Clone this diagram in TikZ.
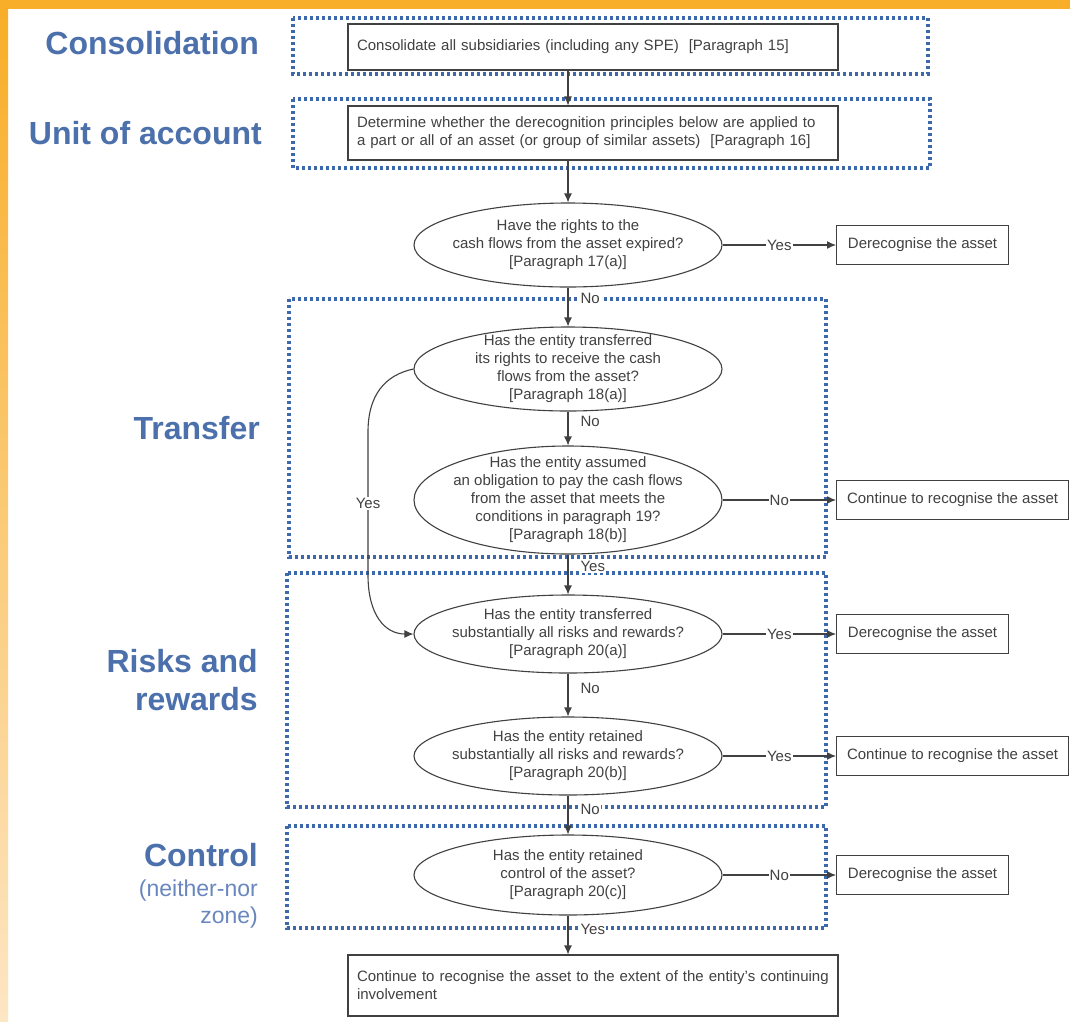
\documentclass[tikz,border=0pt]{standalone}
\usepackage{fontspec}
\setmainfont{Liberation Sans}
\usetikzlibrary{shapes.geometric,arrows.meta}
\definecolor{orangebar}{RGB}{248,174,40}
\definecolor{paleorange}{RGB}{253,230,196}
\definecolor{titleblue}{RGB}{75,112,172}
\definecolor{zoneblue}{RGB}{105,135,190}
\definecolor{dotblue}{RGB}{62,104,172}
\definecolor{ink}{RGB}{65,65,65}
\definecolor{txt}{RGB}{65,65,65}
\begin{document}
\begin{tikzpicture}[x=1pt,y=-1pt,
  every node/.style={font=\fontsize{15}{18}\selectfont, text=txt},
  box/.style={draw=ink, line width=1.1pt, fill=white},
  decision/.style={draw=ink, line width=1.1pt, ellipse, fill=white, inner sep=0pt, minimum width=308},
  qtext/.style={align=center, inner sep=0pt},
  zone/.style={draw=dotblue, line width=3.2pt, dash pattern=on 3pt off 3pt},
  arr/.style={draw=ink, line width=1.1pt, -{Latex[length=9pt,width=8pt]}},
  lbl/.style={fill=white, inner sep=1pt},
  vlbl/.style={fill=white, inner sep=1pt, anchor=west, xshift=11pt},
  title/.style={font=\fontsize{32}{38}\selectfont\bfseries, text=titleblue, anchor=east, align=right, inner sep=0pt},
  subtitle/.style={font=\fontsize{23}{27}\selectfont, text=zoneblue, anchor=east, align=right, inner sep=0pt}
]
\useasboundingbox (0,0) rectangle (1070,1021);
\fill[white] (0,0) rectangle (1070,1021);
\fill[orangebar] (0,0) rectangle (1070,9);
\shade[top color=orangebar, bottom color=paleorange] (0,9) rectangle (8,1021);

% zones
\draw[zone] (293,18) rectangle (928,74);
\draw[zone] (293,99) rectangle (930,168);
\draw[zone] (289,299) rectangle (826,557);
\draw[zone] (287,573) rectangle (826,807);
\draw[zone] (287,826) rectangle (826,928);

% titles
\node[title] (tcons) at (259,43) {Consolidation};
\node[title] (tunit) at (262,133) {Unit of account};
\node[title] (ttrans) at (260,428) {Transfer};
\node[title] (trisk) at (258,680) {Risks and\\rewards};
\node[title] (tctrl) at (258,855) {Control};
\node[subtitle] (tzone) at (258,904) {(neither-nor\\zone)};

% process boxes
\node[box, minimum width=490, minimum height=46, text width=472, inner xsep=9pt, align=left] (b1) at (593,47)
  {Consolidate all subsidiaries (including any SPE)~ [Paragraph 15]};
\node[box, minimum width=490, minimum height=54, text width=472, inner xsep=9pt, align=left] (b2) at (593,133)
  {Determine whether the derecognition principles below are applied to\\a part or all of an asset (or group of similar assets)~ [Paragraph 16]};
\node[box, minimum width=490, minimum height=61, text width=472, inner xsep=9pt, align=left] (b3) at (593,985.5)
  {Continue to recognise the asset to the extent of the entity's continuing\\involvement};

% decisions
\node[decision, minimum height=84] (e1) at (568,245) {};
\node[qtext] (t1) at (e1) {Have the rights to the\\cash flows from the asset expired?\\{}[Paragraph 17(a)]};
\node[decision, minimum height=84] (e2) at (568,369) {};
\node[qtext] (t2) at (e2) {Has the entity transferred\\its rights to receive the cash\\flows from the asset?\\{}[Paragraph 18(a)]};
\node[decision, minimum height=108] (e3) at (568,500) {};
\node[qtext] (t3) at (e3) {Has the entity assumed\\an obligation to pay the cash flows\\from the asset that meets the\\conditions in paragraph 19?\\{}[Paragraph 18(b)]};
\node[decision, minimum height=78] (e4) at (568,634) {};
\node[qtext] (t4) at (e4) {Has the entity transferred\\substantially all risks and rewards?\\{}[Paragraph 20(a)]};
\node[decision, minimum height=78] (e5) at (568,756) {};
\node[qtext] (t5) at (e5) {Has the entity retained\\substantially all risks and rewards?\\{}[Paragraph 20(b)]};
\node[decision, minimum height=80] (e6) at (568,875) {};
\node[qtext] (t6) at (e6) {Has the entity retained\\control of the asset?\\{}[Paragraph 20(c)]};

% outcome boxes
\node[box, minimum width=172, minimum height=39, anchor=west] (d1) at (836,245) {Derecognise the asset};
\node[box, minimum width=232, minimum height=39, anchor=west] (c1) at (836,500) {Continue to recognise the asset};
\node[box, minimum width=172, minimum height=39, anchor=west] (d2) at (836,634) {Derecognise the asset};
\node[box, minimum width=232, minimum height=39, anchor=west] (c2) at (836,756) {Continue to recognise the asset};
\node[box, minimum width=172, minimum height=39, anchor=west] (d3) at (836,875) {Derecognise the asset};

% vertical connectors
\draw[arr] (b1.south -| e1.center) -- (b2.north -| e1.center);
\draw[arr] (b2.south -| e1.center) -- (e1.north);
\draw[arr] (e1.south) -- node[vlbl, pos=0.27] {No} (e2.north);
\draw[arr] (e2.south) -- node[vlbl, pos=0.3] {No} (e3.north);
\draw[arr] (e3.south) -- node[vlbl, pos=0.3] {Yes} (e4.north);
\draw[arr] (e4.south) -- node[vlbl, pos=0.34] {No} (e5.north);
\draw[arr] (e5.south) -- node[vlbl, pos=0.35] {No} (e6.north);
\draw[arr] (e6.south) -- node[vlbl, pos=0.35] {Yes} (e6.south |- b3.north);

% horizontal connectors
\draw[arr] (e1.east) -- node[lbl] {Yes} (d1.west);
\draw[arr] (e3.east) -- node[lbl] {No} (c1.west);
\draw[arr] (e4.east) -- node[lbl] {Yes} (d2.west);
\draw[arr] (e5.east) -- node[lbl] {Yes} (c2.west);
\draw[arr] (e6.east) -- node[lbl] {No} (d3.west);

% curved yes
\draw[arr] (e2.west) .. controls (385,375) and (368,395) .. (368,432)
  -- node[lbl] {Yes} (368,575) .. controls (368,615) and (385,634) .. (e4.west);
\end{tikzpicture}
\end{document}
